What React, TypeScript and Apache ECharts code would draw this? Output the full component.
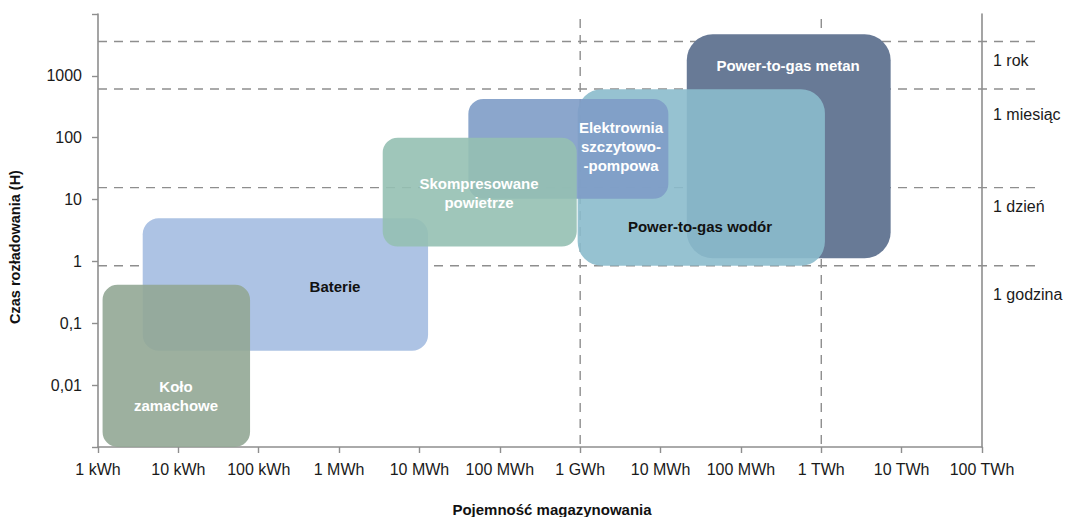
import React, { useEffect, useRef } from "react";
import * as echarts from "echarts";

// ---- data ----
const xTickLabels = [
  "1 kWh", "10 kWh", "100 kWh", "1 MWh", "10 MWh", "100 MWh",
  "1 GWh", "10 MWh", "100 MWh", "1 TWh", "10 TWh", "100 TWh",
];
// indexed by log10(hours) + 3
const yTickLabels = ["", "0,01", "0,1", "1", "10", "100", "1000", ""];

const technologies = [
  "Power-to-gas metan",
  "Power-to-gas wodór",
  "Elektrownia szczytowo-pompowa",
  "Baterie",
  "Skompresowane powietrze",
  "Koło zamachowe",
];
const labelTexts = [
  "Power-to-gas metan",
  "Power-to-gas wodór",
  "Elektrownia\nszczytowo-\n-pompowa",
  "Baterie",
  "Skompresowane\npowietrze",
  "Koło\nzamachowe",
];
// capacity in kWh, duration in hours
const capacityMin = [2.12e7, 9.3e5, 4.06e4, 3.6, 3490, 1.14];
const capacityMax = [7.3e9, 1.11e9, 1.25e7, 12800, 9.06e5, 78];
const durationMin = [1.13, 0.85, 10.3, 0.036, 1.74, 0.001];
const durationMax = [4700, 607, 424, 5.0, 100, 0.42];
const labelCapacity = [3.86e8, 3.1e7, 3.22e6, 889, 55100, 9.35];
const labelDuration = [1445, 3.62, 71, 0.389, 12.6, 0.00675];

const refLineHours = [3600, 614, 15.6, 0.85];
const refLineLabels = ["1 rok", "1 miesiąc", "1 dzień", "1 godzina"];
const refLabelHours = [1800, 233, 7.6, 0.29];
const verticalRefCapacities = [1e6, 1e9];

// ---- styles ----
const FONT = "'Liberation Sans', Arial, sans-serif";
const fills = [
  "rgb(104,122,150)",
  "rgb(139,187,204)",
  "rgb(126,156,199)",
  "rgb(173,195,228)",
  "rgb(149,192,178)",
  "rgb(146,167,149)",
];
const opacities = [1, 0.9, 0.9, 1, 0.9, 0.9];
const radii = [26, 24, 15, 16, 15, 15];
const textColors = ["#ffffff", "#111111", "#ffffff", "#111111", "#ffffff", "#ffffff"];
const GRAY = "#8e8e8e";

export default function App() {
  const ref = useRef<HTMLDivElement>(null);

  useEffect(() => {
    document.body.style.margin = "0";
    if (!ref.current) return;
    const chart = echarts.init(ref.current, undefined, { renderer: "svg" });

    const boxData = technologies.map((name, i) => ({
      name,
      value: [
        capacityMin[i], capacityMax[i], durationMin[i], durationMax[i],
        labelCapacity[i], labelDuration[i],
      ],
    }));

    const option: any = {
      animation: false,
      backgroundColor: "#ffffff",
      grid: { left: 98, right: 87, top: 14, bottom: 70, containLabel: false },
      xAxis: {
        type: "log",
        logBase: 10,
        min: 1,
        max: 1e11,
        interval: 1,
        axisLine: { show: true, lineStyle: { color: GRAY, width: 1.6 } },
        axisTick: { show: true, length: 6, lineStyle: { color: GRAY, width: 1.4 } },
        minorTick: { show: false },
        splitLine: { show: false },
        axisLabel: {
          color: "#1a1a1a",
          fontSize: 16,
          fontFamily: FONT,
          margin: 14,
          formatter: (v: number) => xTickLabels[Math.round(Math.log10(v))] ?? "",
        },
      },
      yAxis: [
        {
          type: "log",
          logBase: 10,
          min: 0.001,
          max: 10000,
          interval: 1,
          axisLine: { show: true, lineStyle: { color: GRAY, width: 1.6 } },
          axisTick: { show: true, length: 6, lineStyle: { color: GRAY, width: 1.4 } },
          splitLine: { show: false },
          axisLabel: {
            color: "#1a1a1a",
            fontSize: 16,
            fontFamily: FONT,
            margin: 16,
            formatter: (v: number) => yTickLabels[Math.round(Math.log10(v)) + 3] ?? "",
          },
        },
        {
          type: "log",
          logBase: 10,
          min: 0.001,
          max: 10000,
          position: "right",
          axisLine: { show: true, lineStyle: { color: GRAY, width: 1.6 } },
          axisTick: { show: false },
          axisLabel: { show: false },
          splitLine: { show: false },
        },
      ],
      graphic: [
        {
          type: "text",
          x: 15,
          y: 247,
          rotation: Math.PI / 2,
          style: {
            text: "Czas rozładowania (H)",
            fill: "#111",
            fontSize: 14.5,
            fontWeight: "bold",
            fontFamily: FONT,
            align: "center",
            verticalAlign: "middle",
          },
        },
        {
          type: "text",
          x: 552,
          y: 509,
          style: {
            text: "Pojemność magazynowania",
            fill: "#111",
            fontSize: 15,
            fontWeight: "bold",
            fontFamily: FONT,
            align: "center",
            verticalAlign: "middle",
          },
        },
      ],
      series: [
        {
          type: "custom",
          name: "verticalRefs",
          clip: false,
          silent: true,
          data: verticalRefCapacities.map((c) => [c]),
          encode: { x: 0 },
          renderItem: (params: any, api: any) => {
            const cs = params.coordSys;
            const x = api.coord([api.value(0), 1])[0];
            return {
              type: "line",
              shape: { x1: x, y1: cs.y + 5, x2: x, y2: cs.y + cs.height },
              style: { stroke: GRAY, lineWidth: 1.4, lineDash: [9, 7] },
            };
          },
        },
        {
          type: "custom",
          name: "horizontalRefs",
          clip: false,
          silent: true,
          data: refLineHours.map((h, i) => [h, refLabelHours[i]]),
          encode: { y: [0, 1] },
          renderItem: (params: any, api: any) => {
            const cs = params.coordSys;
            const i = params.dataIndex;
            const y = api.coord([1, api.value(0)])[1];
            const ly = api.coord([1, api.value(1)])[1];
            return {
              type: "group",
              children: [
                {
                  type: "line",
                  shape: { x1: cs.x, y1: y, x2: cs.x + cs.width + 53, y2: y },
                  style: { stroke: GRAY, lineWidth: 1.4, lineDash: [9, 7] },
                },
                {
                  type: "text",
                  x: cs.x + cs.width + 11,
                  y: ly,
                  style: {
                    text: refLineLabels[i],
                    fill: "#1a1a1a",
                    fontSize: 16,
                    fontFamily: FONT,
                    align: "left",
                    verticalAlign: "middle",
                  },
                },
              ],
            };
          },
        },
        {
          type: "custom",
          name: "technologies",
          clip: false,
          data: boxData,
          encode: { x: [0, 1, 4], y: [2, 3, 5] },
          renderItem: (params: any, api: any) => {
            const i = params.dataIndex;
            const p1 = api.coord([api.value(0), api.value(3)]);
            const p2 = api.coord([api.value(1), api.value(2)]);
            const lp = api.coord([api.value(4), api.value(5)]);
            return {
              type: "group",
              children: [
                {
                  type: "rect",
                  shape: {
                    x: p1[0],
                    y: p1[1],
                    width: p2[0] - p1[0],
                    height: p2[1] - p1[1],
                    r: radii[i],
                  },
                  style: { fill: fills[i], opacity: opacities[i] },
                },
                {
                  type: "text",
                  x: lp[0],
                  y: lp[1],
                  style: {
                    text: labelTexts[i],
                    fill: textColors[i],
                    fontSize: 15,
                    fontWeight: "bold",
                    fontFamily: FONT,
                    lineHeight: 19,
                    align: "center",
                    verticalAlign: "middle",
                  },
                },
              ],
            };
          },
        },
      ],
    };

    chart.setOption(option);
    return () => chart.dispose();
  }, []);

  return <div ref={ref} style={{ width: 1069, height: 517 }} />;
}
